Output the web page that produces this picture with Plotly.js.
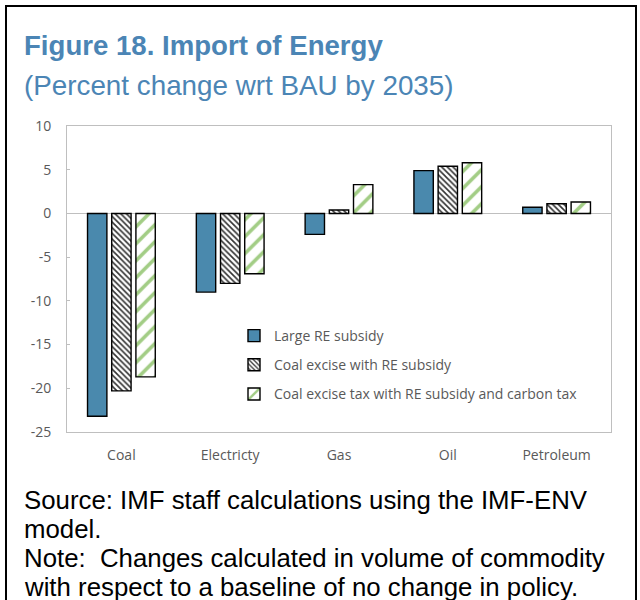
<!DOCTYPE html>
<html>
<head>
<meta charset="utf-8">
<script src="https://cdn.plot.ly/plotly-3.0.1.min.js"></script>
<style>html,body{margin:0;padding:0;background:#fff;}#chart{width:640px;height:600px;}</style>
</head>
<body>
<div id="chart"></div>
<script>
// ---- data ----
const categories = ['Coal', 'Electricty', 'Gas', 'Oil', 'Petroleum'];
const seriesNames = ['Large RE subsidy', 'Coal excise with RE subsidy', 'Coal excise tax with RE subsidy and carbon tax'];
const largeRESubsidy = [-23.2, -9.0, -2.4, 4.9, 0.7];
const coalExciseRESubsidy = [-20.3, -8.0, 0.4, 5.4, 1.1];
const coalExciseCarbonTax = [-18.7, -6.9, 3.3, 5.8, 1.3];
const yTicks = [-25, -20, -15, -10, -5, 0, 5, 10];
const titleText = 'Figure 18. Import of Energy';
const subtitleText = '(Percent change wrt BAU by 2035)';
const footerLines = [
  'Source: IMF staff calculations using the IMF-ENV',
  'model.',
  'Note:  Changes calculated in volume of commodity',
  'with respect to a baseline of no change in policy.'
];

// ---- layout helpers (pixel -> paper) ----
const W = 640, H = 600;
const M = {l: 67, r: 29, t: 126, b: 168};
const pw = W - M.l - M.r, ph = H - M.t - M.b;
const px = x => (x - M.l) / pw;
const py = y => (H - M.b - y) / ph;

const yMin = yTicks[0], yMax = yTicks[yTicks.length - 1];
const axisGrey = '#bfbfbf';
const labelGrey = '#595959';
const tickFont = {family: 'Open Sans, Noto Sans, sans-serif', size: 14, color: labelGrey};

const traces = [
  {
    type: 'bar', name: seriesNames[0], x: categories, y: largeRESubsidy,
    legendgroup: 'a',
    marker: {color: '#4a89ad', line: {color: '#000', width: 1.4}}
  },
  {
    type: 'bar', name: seriesNames[1], x: categories, y: coalExciseRESubsidy,
    legendgroup: 'b',
    marker: {color: '#ffffff', line: {color: '#000', width: 1.4},
      pattern: {shape: '\\', fgcolor: '#333333', bgcolor: '#ffffff', size: 4, solidity: 0.4}}
  },
  {
    type: 'bar', name: seriesNames[2], x: categories, y: coalExciseCarbonTax,
    legendgroup: 'c',
    marker: {color: '#ffffff', line: {color: '#000', width: 1.4},
      pattern: {shape: '/', fgcolor: '#a2cd85', bgcolor: '#ffffff', size: 12, solidity: 0.3}}
  }
];

const boundaries = categories.slice(1).map((_, i) => i + 0.5);

const annotations = [
  {text: '<b>' + titleText + '</b>', xref: 'paper', yref: 'paper', x: px(23), y: py(45.6),
   xanchor: 'left', yanchor: 'middle', showarrow: false, borderpad: 0,
   font: {family: 'Liberation Sans, Arial, sans-serif', size: 27.6, color: '#4b85b5'}},
  {text: subtitleText, xref: 'paper', yref: 'paper', x: px(23), y: py(85.3),
   xanchor: 'left', yanchor: 'middle', showarrow: false, borderpad: 0,
   font: {family: 'Liberation Sans, Arial, sans-serif', size: 27.8, color: '#4b85b5'}}
];
const footerCenters = [499.5, 528.5, 557.5, 586.5];
footerLines.forEach((t, i) => annotations.push({
  text: t, xref: 'paper', yref: 'paper', x: px(23), y: py(footerCenters[i]),
  xanchor: 'left', yanchor: 'middle', showarrow: false, borderpad: 0,
  font: {family: 'Liberation Sans, Arial, sans-serif', size: 25.8, color: '#000'}
}));

const layout = {
  width: W, height: H,
  margin: M,
  paper_bgcolor: '#fff', plot_bgcolor: '#fff',
  showlegend: true,
  barmode: 'group', bargap: 0.333, bargroupgap: 0.2,
  xaxis: {
    type: 'category', range: [-0.5, categories.length - 0.5],
    showline: true, mirror: true, linecolor: axisGrey, linewidth: 1,
    ticks: '', showgrid: false, zeroline: false,
    tickfont: tickFont, ticklabelstandoff: 10
  },
  xaxis2: {
    overlaying: 'x', anchor: 'free', position: (0 - yMin) / (yMax - yMin),
    range: [-0.5, categories.length - 0.5], tickmode: 'array', tickvals: boundaries,
    ticks: 'inside', ticklen: 5, tickcolor: axisGrey, tickwidth: 1,
    showticklabels: false, showline: false, showgrid: false, zeroline: false
  },
  yaxis: {
    range: [yMin, yMax], tickmode: 'array', tickvals: yTicks, ticktext: yTicks.map(String),
    showline: true, mirror: true, linecolor: axisGrey, linewidth: 1,
    ticks: 'inside', ticklen: 3, tickcolor: axisGrey,
    showgrid: false, zeroline: true, zerolinecolor: axisGrey, zerolinewidth: 1.5,
    tickfont: tickFont, ticklabelstandoff: 12
  },
  legend: {
    x: px(234), y: py(320), xanchor: 'left', yanchor: 'top',
    bgcolor: 'rgba(0,0,0,0)', borderwidth: 0,
    font: {family: 'Open Sans, Noto Sans, sans-serif', size: 14, color: labelGrey},
    tracegroupgap: 8, traceorder: 'grouped'
  },
  annotations: annotations,
  shapes: [
    {type: 'rect', xref: 'paper', yref: 'paper', layer: 'above',
     x0: px(6), x1: px(636), y0: py(620), y1: py(6),
     line: {color: '#000', width: 2}, fillcolor: 'rgba(0,0,0,0)'}
  ]
};

Plotly.newPlot('chart', traces, layout, {displayModeBar: false, staticPlot: true});
</script>
</body>
</html>
